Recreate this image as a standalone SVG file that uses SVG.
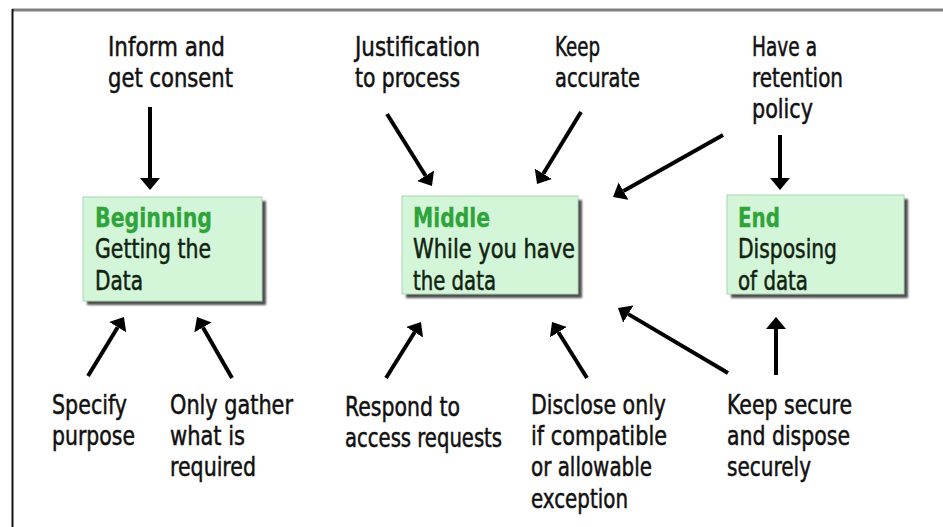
<svg xmlns="http://www.w3.org/2000/svg" width="943" height="527" viewBox="0 0 943 527">
<style>
text{font-family:"DejaVu Sans Condensed","Liberation Sans Narrow","DejaVu Sans",sans-serif;font-size:27px;fill:#111;stroke:#111;stroke-width:0.5;}
.h{fill:#2ea43a;stroke:#2ea43a;font-weight:bold;stroke-width:0.3;}
.n{fill:#112211;stroke:#112211;}
.box{fill:#d3f6d9;stroke:#a9d4b0;stroke-width:1;}
.sh{fill:#505050;filter:url(#blur);}
.arr{stroke:#000;stroke-width:4;fill:none;marker-end:url(#ah);}
</style>
<defs>
<marker id="ah" viewBox="0 -10 12 20" refX="0" refY="0" markerWidth="12" markerHeight="20" markerUnits="userSpaceOnUse" orient="auto">
<path d="M0,-10 L12,0 L0,10 z" fill="#000"/>
</marker>
<filter id="blur" x="-10%" y="-10%" width="120%" height="120%"><feGaussianBlur stdDeviation="1.2"/></filter>
</defs>
<rect width="943" height="527" fill="#fff"/>
<line x1="12" y1="10" x2="943" y2="10" stroke="#808080" stroke-width="3"/>
<line x1="12.5" y1="9" x2="12.5" y2="527" stroke="#111" stroke-width="2"/>

<g id="beginning">
<rect class="sh" x="87" y="201" width="179" height="104"/>
<rect class="box" x="83" y="197" width="179" height="104"/>
<text class="h" x="95" y="227" textLength="117" lengthAdjust="spacingAndGlyphs">Beginning</text>
<text class="n" x="95" y="258" textLength="116" lengthAdjust="spacingAndGlyphs">Getting the</text>
<text class="n" x="95" y="290" textLength="48" lengthAdjust="spacingAndGlyphs">Data</text>
</g>
<g id="middle">
<rect class="sh" x="406" y="200" width="176" height="98"/>
<rect class="box" x="402" y="196" width="176" height="98"/>
<text class="h" x="413" y="227" textLength="77" lengthAdjust="spacingAndGlyphs">Middle</text>
<text class="n" x="413" y="258" textLength="162" lengthAdjust="spacingAndGlyphs">While you have</text>
<text class="n" x="413" y="290" textLength="83" lengthAdjust="spacingAndGlyphs">the data</text>
</g>
<g id="end">
<rect class="sh" x="731" y="199" width="177" height="99"/>
<rect class="box" x="727" y="195" width="177" height="99"/>
<text class="h" x="738" y="227" textLength="42" lengthAdjust="spacingAndGlyphs">End</text>
<text class="n" x="738" y="258" textLength="99" lengthAdjust="spacingAndGlyphs">Disposing</text>
<text class="n" x="738" y="290" textLength="70" lengthAdjust="spacingAndGlyphs">of data</text>
</g>

<g id="inform">
<text x="108" y="56" textLength="117" lengthAdjust="spacingAndGlyphs">Inform and</text>
<text x="108" y="87" textLength="125" lengthAdjust="spacingAndGlyphs">get consent</text>
</g>
<g id="justification">
<text x="355" y="56" textLength="125" lengthAdjust="spacingAndGlyphs">Justification</text>
<text x="355" y="87" textLength="105" lengthAdjust="spacingAndGlyphs">to process</text>
</g>
<g id="accurate">
<text x="555" y="56" textLength="45" lengthAdjust="spacingAndGlyphs">Keep</text>
<text x="555" y="87" textLength="85" lengthAdjust="spacingAndGlyphs">accurate</text>
</g>
<g id="retention">
<text x="752" y="56" textLength="65" lengthAdjust="spacingAndGlyphs">Have a</text>
<text x="752" y="87" textLength="91" lengthAdjust="spacingAndGlyphs">retention</text>
<text x="752" y="118" textLength="61" lengthAdjust="spacingAndGlyphs">policy</text>
</g>
<g id="specify">
<text x="52" y="414" textLength="75" lengthAdjust="spacingAndGlyphs">Specify</text>
<text x="52" y="445" textLength="83" lengthAdjust="spacingAndGlyphs">purpose</text>
</g>
<g id="gather">
<text x="170" y="414" textLength="123" lengthAdjust="spacingAndGlyphs">Only gather</text>
<text x="170" y="445" textLength="75" lengthAdjust="spacingAndGlyphs">what is</text>
<text x="170" y="476" textLength="86" lengthAdjust="spacingAndGlyphs">required</text>
</g>
<g id="respond">
<text x="345" y="416" textLength="115" lengthAdjust="spacingAndGlyphs">Respond to</text>
<text x="345" y="447" textLength="157" lengthAdjust="spacingAndGlyphs">access requests</text>
</g>
<g id="disclose">
<text x="531" y="414" textLength="135" lengthAdjust="spacingAndGlyphs">Disclose only</text>
<text x="531" y="445" textLength="136" lengthAdjust="spacingAndGlyphs">if compatible</text>
<text x="531" y="476" textLength="121" lengthAdjust="spacingAndGlyphs">or allowable</text>
<text x="531" y="508" textLength="97" lengthAdjust="spacingAndGlyphs">exception</text>
</g>
<g id="secure">
<text x="727" y="414" textLength="125" lengthAdjust="spacingAndGlyphs">Keep secure</text>
<text x="727" y="445" textLength="123" lengthAdjust="spacingAndGlyphs">and dispose</text>
<text x="727" y="476" textLength="84" lengthAdjust="spacingAndGlyphs">securely</text>
</g>

<g id="connectors">
<line class="arr" x1="150" y1="107" x2="150" y2="178"/>
<line class="arr" x1="387" y1="114" x2="425.6" y2="175.8"/>
<line class="arr" x1="581" y1="112" x2="543.3" y2="173.8"/>
<line class="arr" x1="723" y1="135" x2="623.5" y2="191.1"/>
<line class="arr" x1="780" y1="135" x2="780" y2="178"/>
<line class="arr" x1="88" y1="376" x2="117.7" y2="327.2"/>
<line class="arr" x1="232" y1="378" x2="203" y2="327.4"/>
<line class="arr" x1="386" y1="378" x2="414.6" y2="332.2"/>
<line class="arr" x1="587" y1="378" x2="558.4" y2="332.2"/>
<line class="arr" x1="728" y1="373" x2="628.3" y2="314.1"/>
<line class="arr" x1="776" y1="375" x2="776" y2="329"/>
</g>
</svg>
